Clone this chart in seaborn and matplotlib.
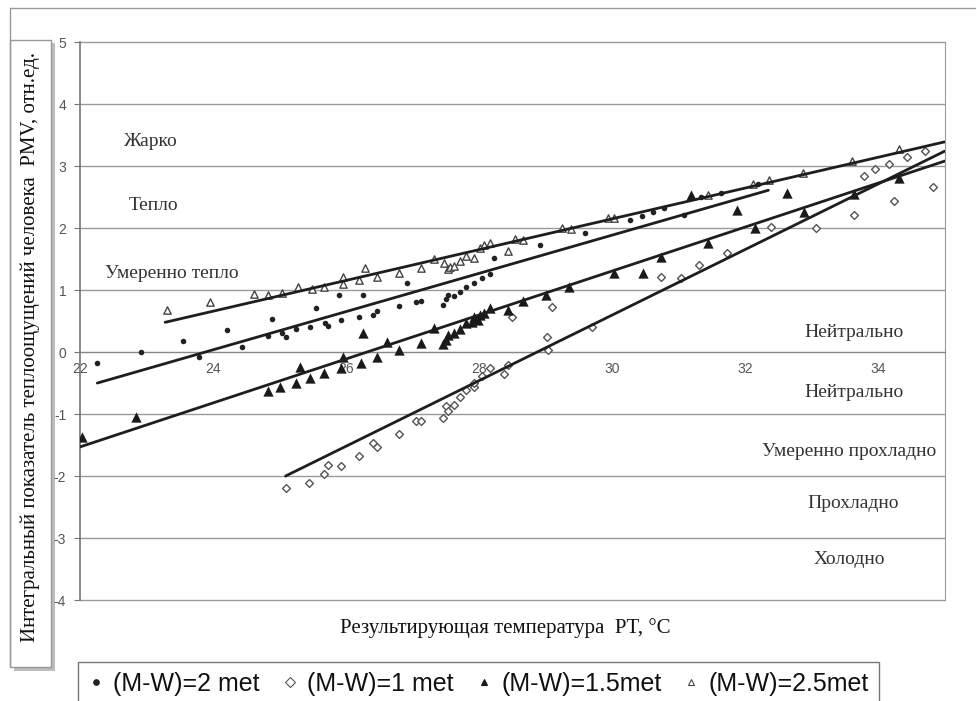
import numpy as np
import pandas as pd
import seaborn as sns
import matplotlib.pyplot as plt
from matplotlib.patches import Rectangle
from matplotlib.lines import Line2D

# (M-W)=2 met  - small filled dots
t_2 = [22.26, 22.92, 23.55, 23.79, 24.21, 24.44, 24.89, 24.83, 25.03, 25.09, 25.24, 25.46,
       25.55, 25.69, 25.73, 25.92, 25.90, 26.25, 26.19, 26.40, 26.47, 26.79, 26.91, 27.05,
       27.12, 27.45, 27.51, 27.53, 27.62, 27.71, 27.80, 27.92, 28.04, 28.16, 28.23, 28.91,
       29.59, 30.27, 30.45, 30.61, 30.78, 31.08, 31.34, 31.64, 32.20]
pmv_2 = [-0.18, 0.00, 0.18, -0.08, 0.35, 0.08, 0.53, 0.26, 0.31, 0.24, 0.37, 0.40,
         0.71, 0.47, 0.42, 0.52, 0.92, 0.92, 0.56, 0.60, 0.66, 0.74, 1.11, 0.81,
         0.82, 0.76, 0.85, 0.92, 0.90, 0.97, 1.05, 1.11, 1.19, 1.26, 1.52, 1.73,
         1.92, 2.13, 2.19, 2.26, 2.32, 2.21, 2.50, 2.56, 2.71]

# (M-W)=1 met  - small open diamonds
t_1 = [25.09, 25.45, 25.67, 25.73, 25.93, 26.19, 26.40, 26.47, 26.79, 27.05, 27.12, 27.45,
       27.51, 27.53, 27.62, 27.71, 27.81, 27.92, 27.92, 28.04, 28.16, 28.37, 28.43, 28.49,
       29.02, 29.03, 29.09, 29.70, 30.73, 31.04, 31.31, 31.73, 32.39, 33.07, 33.64, 33.78,
       33.96, 34.17, 34.44, 34.71, 34.24, 34.83]
pmv_1 = [-2.19, -2.11, -1.97, -1.82, -1.84, -1.68, -1.47, -1.53, -1.32, -1.11, -1.11, -1.06,
         -0.87, -0.95, -0.85, -0.73, -0.61, -0.56, -0.50, -0.39, -0.26, -0.35, -0.21, 0.56,
         0.24, 0.03, 0.73, 0.40, 1.21, 1.19, 1.40, 1.60, 2.02, 2.00, 2.21, 2.84,
         2.95, 3.03, 3.15, 3.24, 2.44, 2.66]

# (M-W)=1.5met - big filled triangles
t_15 = [22.03, 22.84, 24.83, 25.01, 25.24, 25.30, 25.46, 25.67, 25.95, 25.93, 26.22, 26.25,
        26.47, 26.62, 26.79, 27.12, 27.32, 27.45, 27.50, 27.53, 27.62, 27.71, 27.81, 27.90,
        27.93, 27.98, 28.01, 28.07, 28.17, 28.43, 28.66, 29.00, 29.35, 30.03, 30.46, 30.73,
        31.19, 31.44, 31.88, 32.15, 32.63, 32.89, 33.63, 34.32]
pmv_15 = [-1.37, -1.05, -0.63, -0.56, -0.50, -0.24, -0.42, -0.34, -0.08, -0.26, -0.18, 0.31,
          -0.08, 0.16, 0.03, 0.15, 0.39, 0.13, 0.19, 0.27, 0.31, 0.37, 0.47, 0.48,
          0.56, 0.52, 0.60, 0.63, 0.71, 0.68, 0.82, 0.92, 1.05, 1.27, 1.27, 1.53,
          2.53, 1.76, 2.29, 2.00, 2.56, 2.26, 2.55, 2.81]

# (M-W)=2.5met - small open triangles
t_25 = [23.31, 23.96, 24.62, 24.83, 25.03, 25.28, 25.49, 25.67, 25.96, 25.96, 26.20, 26.28,
        26.47, 26.80, 27.12, 27.32, 27.48, 27.53, 27.57, 27.62, 27.71, 27.81, 27.93, 28.01,
        28.08, 28.16, 28.43, 28.54, 28.66, 29.24, 29.38, 29.94, 30.03, 31.44, 32.12, 32.36,
        32.87, 33.60, 34.32]
pmv_25 = [0.68, 0.81, 0.94, 0.92, 0.95, 1.05, 1.02, 1.05, 1.21, 1.10, 1.16, 1.35,
          1.21, 1.27, 1.35, 1.50, 1.44, 1.34, 1.37, 1.39, 1.47, 1.55, 1.52, 1.68,
          1.73, 1.76, 1.63, 1.82, 1.81, 2.00, 1.98, 2.16, 2.16, 2.53, 2.71, 2.77,
          2.89, 3.08, 3.27]

# trend lines, end points
trend_t_2, trend_pmv_2 = [22.26, 32.35], [-0.50, 2.61]
trend_t_1, trend_pmv_1 = [25.09, 35.0], [-2.00, 3.24]
trend_t_15, trend_pmv_15 = [22.0, 35.0], [-1.53, 3.08]
trend_t_25, trend_pmv_25 = [23.28, 35.0], [0.48, 3.39]

zone_names = ["Жарко", "Тепло", "Умеренно тепло", "Нейтрально", "Нейтрально",
              "Умеренно прохладно", "Прохладно", "Холодно"]
zone_x = [23.07, 23.1, 23.38, 33.63, 33.63, 33.57, 33.62, 33.57]
zone_y = [3.39, 2.37, 1.26, 0.32, -0.65, -1.61, -2.44, -3.35]

x_ticks = [22, 24, 26, 28, 30, 32, 34]
y_ticks = [5, 4, 3, 2, 1, 0, -1, -2, -3, -4]

sns.set_style("white")
serif = ["Liberation Serif", "DejaVu Serif"]
sans = ["Liberation Sans", "DejaVu Sans"]
plt.rcParams["font.family"] = sans
plt.rcParams["axes.unicode_minus"] = False

fig = plt.figure(figsize=(9.77, 7.01), dpi=100)
ax = fig.add_axes([0.0819, 0.144, 0.885, 0.796])

for yv in y_ticks:
    ax.axhline(yv, color="#9a9a9a", lw=1.0, zorder=0, clip_on=False)

series = [
    ("(M-W)=2 met", t_2, pmv_2, dict(marker="o", s=16, color="#222222", edgecolor="#222222", linewidth=0)),
    ("(M-W)=1 met", t_1, pmv_1, dict(marker="D", s=16, facecolor="white", edgecolor="#555555", linewidth=1.0)),
    ("(M-W)=1.5met", t_15, pmv_15, dict(marker="^", s=55, color="#1a1a1a", edgecolor="#1a1a1a", linewidth=0)),
    ("(M-W)=2.5met", t_25, pmv_25, dict(marker="^", s=28, facecolor="white", edgecolor="#444444", linewidth=1.0)),
]
handles = []
for name, tx, py, kw in series:
    df = pd.DataFrame({"t": tx, "pmv": py})
    sns.scatterplot(data=df, x="t", y="pmv", ax=ax, zorder=3, **kw)
    handles.append(Line2D([], [], ls="none", marker=kw["marker"],
                          markersize=5 if kw["marker"] != "o" else 4,
                          markerfacecolor=kw.get("facecolor", kw.get("color")),
                          markeredgecolor=kw["edgecolor"], markeredgewidth=0.8,
                          label=name))

for tx, py in [(trend_t_2, trend_pmv_2), (trend_t_1, trend_pmv_1),
               (trend_t_15, trend_pmv_15), (trend_t_25, trend_pmv_25)]:
    sns.lineplot(x=tx, y=py, ax=ax, color="#1e1e1e", lw=2.0, zorder=4)

for name, zx, zy in zip(zone_names, zone_x, zone_y):
    ax.text(zx, zy, name, ha="center", va="center", fontsize=14,
            family=serif, color="#333333")

ax.set_xlim(22, 35)
ax.set_ylim(-4, 5)
ax.set_xticks(x_ticks)
ax.set_yticks(y_ticks)
ax.set_xlabel("")
ax.set_ylabel("")
ax.spines["bottom"].set_position(("data", 0))
ax.spines["bottom"].set_color("#888888")
ax.spines["left"].set_color("#777777")
ax.spines["left"].set_linewidth(1.2)
ax.spines["right"].set_color("#999999")
ax.spines["top"].set_visible(False)
ax.tick_params(axis="x", direction="inout", length=5, color="#777777",
               labelsize=10, labelcolor="#555555", pad=5)
ax.tick_params(axis="y", direction="out", length=4, color="#777777",
               left=True, labelsize=10, labelcolor="#555555", pad=6)

fig.text(0.517, 0.104, "Результирующая температура  PT, °C", ha="center", va="center",
         fontsize=15, family=serif, color="#111111")

# box holding the y label, with its shadow
fig.add_artist(Rectangle((0.014, 0.043), 0.042, 0.895, transform=fig.transFigure,
                         facecolor="#bdbdbd", edgecolor="none", zorder=0))
fig.add_artist(Rectangle((0.010, 0.048), 0.042, 0.895, transform=fig.transFigure,
                         facecolor="white", edgecolor="#999999", lw=1.0, zorder=1))
fig.text(0.031, 0.505, "Интегральный показатель теплоощущений человека  PMV, отн.ед.",
         rotation=90, ha="center", va="center", fontsize=15, family=serif,
         color="#111111", zorder=2)

# outer frame of the scan
fig.add_artist(Line2D([0.010, 0.998], [0.989, 0.989], transform=fig.transFigure,
                      color="#9a9a9a", lw=1.0))
fig.add_artist(Line2D([0.010, 0.010], [0.989, 0.048], transform=fig.transFigure,
                      color="#9a9a9a", lw=1.0))

leg = fig.legend(handles=handles, loc="lower center", bbox_to_anchor=(0.490, -0.025),
                 ncol=4, frameon=True, fontsize=18, handlelength=0.6,
                 handletextpad=0.4, columnspacing=0.9, borderpad=0.4, fancybox=False)
leg.get_frame().set_edgecolor("#555555")
leg.get_frame().set_linewidth(1.0)
for txt in leg.get_texts():
    txt.set_color("#111111")

fig.savefig("out.png", dpi=100)
